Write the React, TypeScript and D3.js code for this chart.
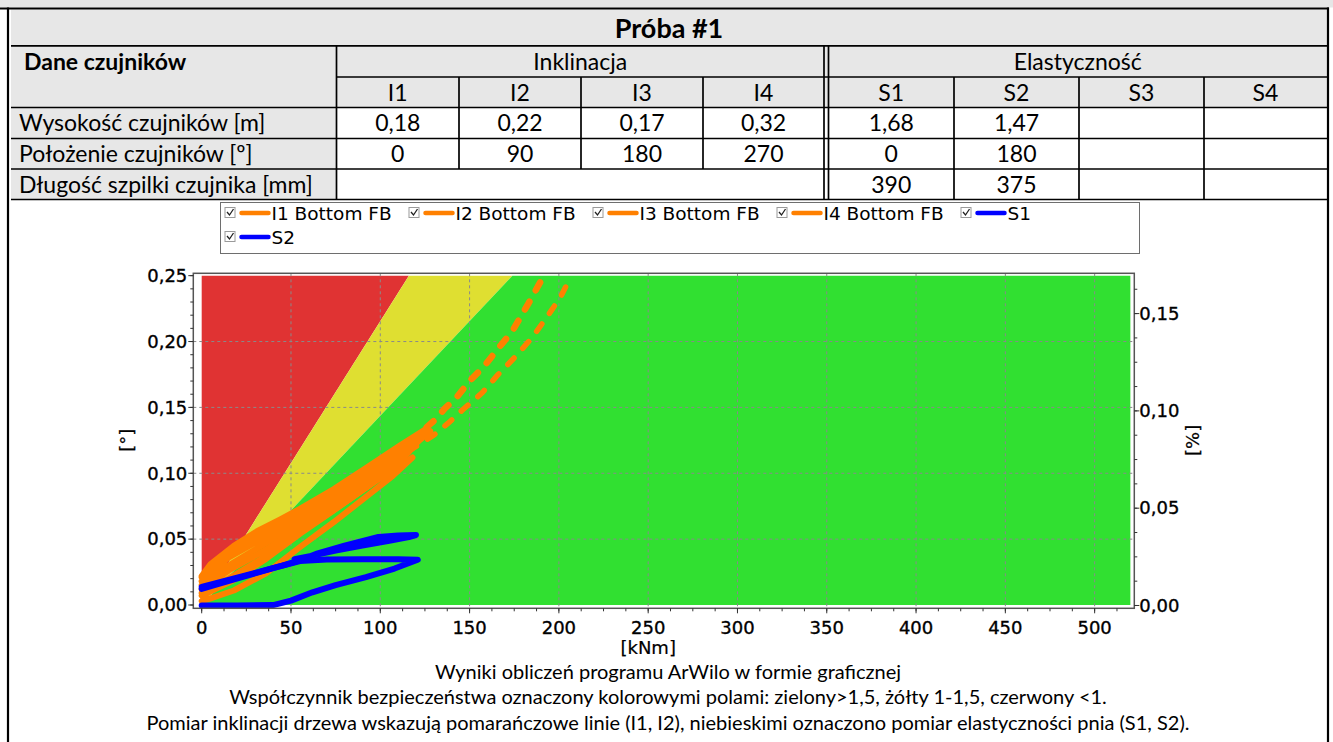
import React from 'react';
import * as d3 from 'd3';

// ---------- table data ----------
const tableTitle = 'Próba #1';
const headerLabel = 'Dane czujników';
const groupInk = 'Inklinacja';
const groupEla = 'Elastyczność';
const inkSensors = ['I1', 'I2', 'I3', 'I4'];
const elaSensors = ['S1', 'S2', 'S3', 'S4'];
const rowLabels = ['Wysokość czujników [m]', 'Położenie czujników [º]', 'Długość szpilki czujnika [mm]'];
const inkHeights = ['0,18', '0,22', '0,17', '0,32'];
const elaHeights = ['1,68', '1,47', '', ''];
const inkPositions = ['0', '90', '180', '270'];
const elaPositions = ['0', '180', '', ''];
const elaPinLengths = ['390', '375', '', ''];

// ---------- chart data ----------
const xTicks = [0, 50, 100, 150, 200, 250, 300, 350, 400, 450, 500];
const yLeftTicks = [0, 0.05, 0.1, 0.15, 0.2, 0.25];
const yRightTicks = [0, 0.05, 0.1, 0.15];
const xLabel = '[kNm]';
const yLeftLabel = '[°]';
const yRightLabel = '[%]';

// safety zones: x where safety-factor line reaches top of zone area
const zoneTopX = [116, 174];
const zoneXMax = 520;
const zoneYMax = 0.25;
const zoneColors = ['#e03333', '#dfdf31', '#31e031'];

const I1: [number, number][] = [
  [0, 0.022], [5, 0.031], [18, 0.045], [31, 0.056], [44, 0.065], [55, 0.073], [74, 0.088], [92, 0.104], [111, 0.121], [126, 0.134],
  [118, 0.124], [100, 0.107], [80, 0.091], [60, 0.075], [45, 0.063], [30, 0.051], [15, 0.037], [5, 0.027], [0, 0.021],
];
const I1Trend: [number, number][] = [
  [126, 0.135], [131, 0.141], [136, 0.149], [143, 0.158], [150, 0.170], [158, 0.181], [165, 0.193], [174, 0.208], [183, 0.229], [192, 0.251],
];
const I2: [number, number][] = [
  [0, 0.012], [15, 0.026], [36, 0.042], [55, 0.060], [74, 0.077], [92, 0.094], [110, 0.113], [121, 0.124],
  [112, 0.110], [92, 0.089], [74, 0.072], [55, 0.055], [36, 0.037], [15, 0.020], [0, 0.009],
];
const I2Trend: [number, number][] = [
  [116, 0.117], [122, 0.122], [130, 0.129], [138, 0.138], [146, 0.148], [157, 0.161], [166, 0.175], [176, 0.189], [185, 0.203], [193, 0.218], [201, 0.234], [207, 0.250],
];
const I3: [number, number][] = [
  [0, 0.003], [5, 0.005], [18, 0.011], [36, 0.024], [55, 0.044], [74, 0.063], [92, 0.082], [107, 0.098], [118, 0.112],
  [105, 0.101], [90, 0.087], [72, 0.070], [55, 0.054], [36, 0.035], [18, 0.019], [0, 0.007],
];
const I4: [number, number][] = [
  [0, 0.018], [15, 0.036], [36, 0.052], [55, 0.068], [74, 0.083], [92, 0.099], [111, 0.117], [128, 0.132],
  [114, 0.116], [92, 0.095], [74, 0.079], [55, 0.064], [36, 0.047], [15, 0.030], [0, 0.015],
];
const S1: [number, number][] = [
  [0, 0.0095], [15, 0.0132], [30, 0.0168], [45, 0.0205], [55, 0.0232], [65, 0.0268], [80, 0.0308], [99, 0.0352], [110, 0.0360], [120, 0.0362],
  [116, 0.0352], [105, 0.0333], [90, 0.0308], [75, 0.0282], [62, 0.0256], [52, 0.0238],
];
const S2: [number, number][] = [
  [0, 0], [20, 0], [40, 0.0002], [50, 0.0025], [62, 0.0068], [75, 0.0105], [92, 0.0146], [108, 0.0190], [118, 0.0225], [121, 0.0235],
  [110, 0.0238], [90, 0.0238], [70, 0.0236], [55, 0.0228], [40, 0.0192], [25, 0.0152], [10, 0.0112], [0, 0.0085],
];

const legendItems = [
  { name: 'I1 Bottom FB', color: '#ff8000' },
  { name: 'I2 Bottom FB', color: '#ff8000' },
  { name: 'I3 Bottom FB', color: '#ff8000' },
  { name: 'I4 Bottom FB', color: '#ff8000' },
  { name: 'S1', color: '#0000ff' },
  { name: 'S2', color: '#0000ff' },
];

const captions = [
  'Wyniki obliczeń programu ArWilo w formie graficznej',
  'Współczynnik bezpieczeństwa oznaczony kolorowymi polami: zielony>1,5, żółty 1-1,5, czerwony <1.',
  'Pomiar inklinacji drzewa wskazują pomarańczowe linie (I1, I2), niebieskimi oznaczono pomiar elastyczności pnia (S1, S2).',
];

const ORANGE = '#ff8000';
const BLUE = '#0000ff';
const CELL_GRAY = '#e7e7e7';
const TXT = "Lato, 'Open Sans', sans-serif";
const AX = "'DejaVu Sans', Verdana, sans-serif";

export default function App() {
  const W = 1333, H = 742;

  // table geometry
  const tx0 = 11, tx1 = 1327;
  const labelR = 336.5;
  const inkEdges = [336.5, 459, 581, 703, 824];
  const elaEdges = [828.5, 954, 1079, 1204, 1327];
  const rows = [9.5, 45.8, 77, 107.5, 138.5, 169, 199.5];
  const lineW = 1.7;
  const mid = (a: number, b: number) => (a + b) / 2;

  // chart scales
  const x = d3.scaleLinear().domain([-4.7, 522.2]).range([193.3, 1134.3]);
  const yL = d3.scaleLinear().domain([-0.0025, 0.2518]).range([608.3, 273.3]);
  const yR = d3.scaleLinear().domain([-0.00144, 0.1707]).range([608.3, 273.3]);
  const [px0, px1] = x.range();
  const [py0, py1] = yL.range();

  const lineL = d3.line<[number, number]>().x(d => x(d[0])).y(d => yL(d[1])).curve(d3.curveLinear);
  const lineR = d3.line<[number, number]>().x(d => x(d[0])).y(d => yR(d[1])).curve(d3.curveLinear);
  const poly = (pts: [number, number][]) => pts.map(p => `${x(p[0])},${yL(p[1])}`).join(' ');

  const zones: [number, number][][] = [
    [[0, 0], [0, zoneYMax], [zoneTopX[0], zoneYMax]],
    [[0, 0], [zoneTopX[0], zoneYMax], [zoneTopX[1], zoneYMax]],
    [[0, 0], [zoneTopX[1], zoneYMax], [zoneXMax, zoneYMax], [zoneXMax, 0]],
  ];

  const xMinor = d3.range(0, 525, 12.5).filter(v => v <= 522);
  const yLMinor = d3.range(0, 0.2501, 0.01);
  const yRMinor = d3.range(0, 0.17, 0.0125);

  const cellText = (txt: string, cx: number, cy: number, opts: any = {}) => (
    <text x={cx} y={cy} dy="0.36em" textAnchor={opts.anchor || 'middle'} fontFamily={TXT}
      fontSize={opts.size || 23} fontWeight={opts.bold ? 700 : 400} fill="#000">{txt}</text>
  );

  const axText = { fontFamily: AX, fontSize: 18, fill: '#000', stroke: '#000', strokeWidth: 0.35 } as any;

  // legend geometry
  const legX0 = 224.5, legStep = 184, legRowY = [214, 238];
  const legendPos = legendItems.map((it, i) => {
    const col = i < 5 ? i : i - 5;
    const row = i < 5 ? 0 : 1;
    return { ...it, x: legX0 + col * legStep, y: legRowY[row] };
  });

  return (
    <div style={{ position: 'absolute', left: 0, top: 0 }}>
      <svg width={W} height={H} style={{ display: 'block', background: '#fff' }}>
        {/* top strip and frame */}
        <rect x={0} y={0} width={W} height={7.5} fill="#e6e6e6" />
        {/* table backgrounds */}
        <rect x={tx0} y={rows[0]} width={tx1 - tx0} height={rows[1] - rows[0]} fill={CELL_GRAY} />
        <rect x={tx0} y={rows[1]} width={labelR - tx0} height={rows[6] - rows[1]} fill={CELL_GRAY} />
        <rect x={labelR} y={rows[1]} width={tx1 - labelR} height={rows[3] - rows[1]} fill={CELL_GRAY} />
        {/* horizontal lines */}
        {[1, 3, 4, 5, 6].map(i => (
          <line key={'h' + i} x1={tx0} x2={tx1} y1={rows[i]} y2={rows[i]} stroke="#000" strokeWidth={lineW} />
        ))}
        <line x1={labelR} x2={tx1} y1={rows[2]} y2={rows[2]} stroke="#000" strokeWidth={lineW} />
        {/* vertical lines */}
        <line x1={labelR} x2={labelR} y1={rows[1]} y2={rows[6]} stroke="#000" strokeWidth={lineW} />
        {inkEdges.slice(1, 4).map((e, i) => (
          <line key={'vi' + i} x1={e} x2={e} y1={rows[2]} y2={rows[5]} stroke="#000" strokeWidth={lineW} />
        ))}
        <line x1={inkEdges[4]} x2={inkEdges[4]} y1={rows[1]} y2={rows[6]} stroke="#000" strokeWidth={lineW} />
        <line x1={elaEdges[0]} x2={elaEdges[0]} y1={rows[1]} y2={rows[6]} stroke="#000" strokeWidth={lineW} />
        {elaEdges.slice(1, 4).map((e, i) => (
          <line key={'ve' + i} x1={e} x2={e} y1={rows[2]} y2={rows[6]} stroke="#000" strokeWidth={lineW} />
        ))}
        {/* outer frame */}
        <line x1={0} x2={1329} y1={8.5} y2={8.5} stroke="#000" strokeWidth={2.2} />
        <line x1={8} x2={8} y1={7.5} y2={H} stroke="#000" strokeWidth={2.2} />
        <line x1={1328} x2={1328} y1={7.5} y2={H} stroke="#000" strokeWidth={2.2} />

        {/* table texts */}
        {cellText(tableTitle, mid(tx0, tx1), mid(rows[0], rows[1]) + 1, { bold: true, size: 27 })}
        {cellText(headerLabel, 24, mid(rows[1], rows[2]), { bold: true, anchor: 'start' })}
        {cellText(groupInk, mid(inkEdges[0], inkEdges[4]), mid(rows[1], rows[2]))}
        {cellText(groupEla, mid(elaEdges[0], elaEdges[4]), mid(rows[1], rows[2]))}
        {inkSensors.map((s, i) => <g key={'is' + i}>{cellText(s, mid(inkEdges[i], inkEdges[i + 1]), mid(rows[2], rows[3]))}</g>)}
        {elaSensors.map((s, i) => <g key={'es' + i}>{cellText(s, mid(elaEdges[i], elaEdges[i + 1]), mid(rows[2], rows[3]))}</g>)}
        {rowLabels.map((s, i) => <g key={'rl' + i}>{cellText(s, 19, mid(rows[3 + i], rows[4 + i]), { anchor: 'start' })}</g>)}
        {inkHeights.map((s, i) => <g key={'ih' + i}>{cellText(s, mid(inkEdges[i], inkEdges[i + 1]), mid(rows[3], rows[4]))}</g>)}
        {elaHeights.map((s, i) => <g key={'eh' + i}>{cellText(s, mid(elaEdges[i], elaEdges[i + 1]), mid(rows[3], rows[4]))}</g>)}
        {inkPositions.map((s, i) => <g key={'ip' + i}>{cellText(s, mid(inkEdges[i], inkEdges[i + 1]), mid(rows[4], rows[5]))}</g>)}
        {elaPositions.map((s, i) => <g key={'ep' + i}>{cellText(s, mid(elaEdges[i], elaEdges[i + 1]), mid(rows[4], rows[5]))}</g>)}
        {elaPinLengths.map((s, i) => <g key={'el' + i}>{cellText(s, mid(elaEdges[i], elaEdges[i + 1]), mid(rows[5], rows[6]))}</g>)}

        {/* legend */}
        <rect x={220.5} y={202.5} width={919} height={51} fill="#fff" stroke="#6e6e6e" strokeWidth={1} />
        {legendPos.map((it, i) => (
          <g key={'lg' + i}>
            <rect x={it.x + 0.5} y={it.y - 6.5} width={10} height={10} fill="#fff" stroke="#9a9a9a" strokeWidth={1} />
            <path d={`M${it.x + 2.5},${it.y - 2} l2.5,3 l4,-6`} fill="none" stroke="#222" strokeWidth={1.3} />
            <line x1={it.x + 17} x2={it.x + 44} y1={it.y - 1} y2={it.y - 1} stroke={it.color} strokeWidth={4.5} strokeLinecap="round" />
            <text x={it.x + 47} y={it.y - 1} dy="0.36em" fontFamily={AX} fontSize={18.5} fill="#000">{it.name}</text>
          </g>
        ))}

        {/* plot: zones */}
        {zones.map((z, i) => <polygon key={'z' + i} points={poly(z)} fill={zoneColors[i]} />)}
        {/* grid */}
        {xTicks.filter(t => t > 0).map(t => (
          <line key={'gx' + t} x1={x(t)} x2={x(t)} y1={py1} y2={py0} stroke="#8a8a8a" strokeWidth={1} strokeDasharray="3,3" />
        ))}
        {yLeftTicks.filter(t => t > 0 && t < 0.25).map(t => (
          <line key={'gy' + t} x1={px0} x2={px1} y1={yL(t)} y2={yL(t)} stroke="#8a8a8a" strokeWidth={1} strokeDasharray="3,3" />
        ))}
        {/* series */}
        {[I3, I2, I4, I1].map((s, i) => (
          <path key={'o' + i} d={lineL(s) || ''} fill="none" stroke={ORANGE} strokeWidth={6} strokeLinejoin="round" strokeLinecap="round" />
        ))}
        <path d={lineL(I1Trend) || ''} fill="none" stroke={ORANGE} strokeWidth={6.5} strokeLinecap="round" strokeDasharray="9,13" />
        <path d={lineL(I2Trend) || ''} fill="none" stroke={ORANGE} strokeWidth={5.5} strokeLinecap="round" strokeDasharray="9,13" />
        {[S2, S1].map((s, i) => (
          <path key={'b' + i} d={lineR(s) || ''} fill="none" stroke={BLUE} strokeWidth={6} strokeLinejoin="round" strokeLinecap="round" />
        ))}
        {/* frame */}
        <rect x={px0} y={py1} width={px1 - px0} height={py0 - py1} fill="none" stroke="#555" strokeWidth={1.5} />
        {/* bottom axis */}
        {xMinor.map(t => <line key={'xm' + t} x1={x(t)} x2={x(t)} y1={py0} y2={py0 + 3} stroke="#333" />)}
        {xTicks.map(t => (
          <g key={'xt' + t}>
            <line x1={x(t)} x2={x(t)} y1={py0} y2={py0 + 5} stroke="#333" />
            <text x={x(t)} y={py0 + 19} dy="0.35em" textAnchor="middle" {...axText}>{String(t)}</text>
          </g>
        ))}
        <text x={x(250)} y={648} dy="0.35em" textAnchor="middle" {...axText} strokeWidth={0.2}>{xLabel}</text>
        {/* left axis */}
        {yLMinor.map(t => <line key={'ylm' + t} x1={px0 - 3} x2={px0} y1={yL(t)} y2={yL(t)} stroke="#333" />)}
        {yLeftTicks.map(t => (
          <g key={'yl' + t}>
            <line x1={px0 - 5} x2={px0} y1={yL(t)} y2={yL(t)} stroke="#333" />
            <text x={px0 - 6} y={yL(t)} dy="0.35em" textAnchor="end" {...axText}>{d3.format('.2f')(t).replace('.', ',')}</text>
          </g>
        ))}
        <text transform={`translate(127,${yL(0.125)}) rotate(-90)`} dy="0.35em" textAnchor="middle" {...axText} strokeWidth={0.2}>{yLeftLabel}</text>
        {/* right axis */}
        {yRMinor.map(t => <line key={'yrm' + t} x1={px1} x2={px1 + 3} y1={yR(t)} y2={yR(t)} stroke="#333" />)}
        {yRightTicks.map(t => (
          <g key={'yr' + t}>
            <line x1={px1} x2={px1 + 5} y1={yR(t)} y2={yR(t)} stroke="#333" />
            <text x={px1 + 5} y={yR(t)} dy="0.35em" textAnchor="start" {...axText}>{d3.format('.2f')(t).replace('.', ',')}</text>
          </g>
        ))}
        <text transform={`translate(1193,${yL(0.125)}) rotate(-90)`} dy="0.35em" textAnchor="middle" {...axText} strokeWidth={0.2}>{yRightLabel}</text>

        {/* captions */}
        {captions.map((c, i) => (
          <text key={'c' + i} x={668} y={672 + i * 25.3} dy="0.35em" textAnchor="middle" fontFamily={TXT} fontSize={20} fill="#000">{c}</text>
        ))}
      </svg>
    </div>
  );
}
